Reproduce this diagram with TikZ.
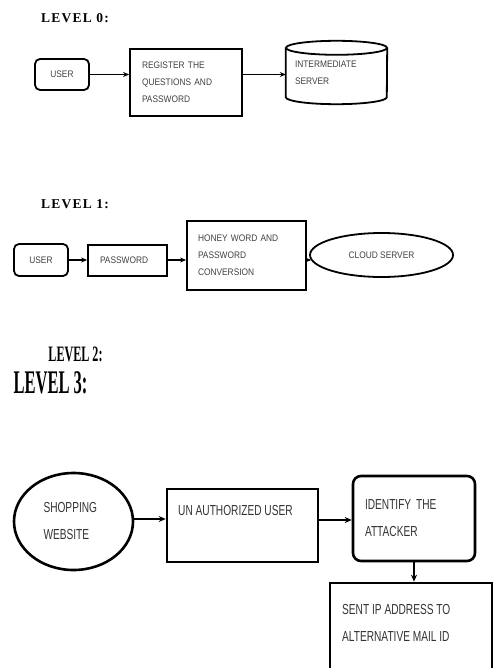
\documentclass[tikz,border=0pt]{standalone}
\usepackage{fontspec}
\usetikzlibrary{arrows.meta,shapes.geometric}
\newfontfamily\headfont[LetterSpace=9]{Liberation Serif}
\newfontfamily\headnarrow[FakeStretch=0.55]{Liberation Serif}
\newfontfamily\headnarrower[FakeStretch=0.5]{Liberation Serif}
\newfontfamily\boxfont[FakeStretch=0.88]{Liberation Sans}
\newfontfamily\bigboxfont[FakeStretch=0.7]{Liberation Sans}
\begin{document}
\begin{tikzpicture}[x=1pt,y=-1pt,
  box/.style={draw, line width=1.8pt, inner sep=0pt},
  bigbox/.style={draw, line width=2.6pt, inner sep=0pt},
  tsmall/.style={font=\boxfont\fontsize{9.5}{17}\selectfont, text=black!75},
  tbig/.style={font=\bigboxfont\fontsize{14.5}{27}\selectfont, text=black!80},
  arr/.style={line width=1.5pt, -{Stealth[length=6pt,width=5pt]}},
  bigarr/.style={line width=2pt, -{Stealth[length=7pt,width=6pt]}},
  headA/.style={font=\headfont\bfseries\fontsize{13.5}{16}\selectfont, inner sep=0pt},
]
\useasboundingbox (0,0) rectangle (494,668);
\clip (0,0) rectangle (494,668);

% ---------- LEVEL 0 ----------
\node[headA] (h0) at (75,18) {LEVEL 0:};
\node[box, rounded corners=5pt, minimum width=54pt, minimum height=31pt, tsmall] (u0) at (62,74.5) {USER};
\node[box, minimum width=112pt, minimum height=67pt, tsmall, text width=88pt, inner xsep=12pt, align=left] (r0) at (186,82.5) {REGISTER THE\\QUESTIONS AND\\PASSWORD};
\node[inner sep=0pt, minimum width=101pt, minimum height=63pt, tsmall, text width=83pt, inner xsep=9pt, align=left] (s0) at (336.5,72.5) {INTERMEDIATE\\SERVER};
\draw[line width=1.8pt] ([yshift=-7pt]s0.north west) -- ([yshift=7pt]s0.south west)
   arc[start angle=180, end angle=360, x radius=50.5pt, y radius=7pt]
   -- ([yshift=-7pt]s0.north east);
\draw[line width=1.8pt] ([yshift=-7pt]s0.north) ellipse[x radius=50.5pt, y radius=7pt];
\draw[arr] (u0.east) -- (u0.east -| r0.west);
\draw[arr] (r0.east |- u0.east) -- (u0.east -| s0.west);

% ---------- LEVEL 1 ----------
\node[headA] (h1) at (75,204) {LEVEL 1:};
\node[box, rounded corners=5pt, minimum width=54pt, minimum height=32pt, tsmall] (u1) at (41,260) {USER};
\node[box, minimum width=79pt, minimum height=31pt, tsmall, text width=55pt, inner xsep=12pt, align=left] (p1) at (127.5,260.5) {PASSWORD};
\node[box, minimum width=119pt, minimum height=69pt, tsmall, text width=97pt, inner xsep=11pt, align=left] (hw) at (246.5,255.5) {HONEY WORD AND\\PASSWORD\\CONVERSION};
\node[ellipse, box, minimum width=143pt, minimum height=44pt, tsmall] (c1) at (381.5,255) {CLOUD SERVER};
\draw[arr] (u1.east) -- (u1.east -| p1.west);
\draw[arr] (p1.east |- u1.east) -- (u1.east -| hw.west);
\draw[arr] (hw.east |- u1.east) -- ([xshift=2pt]c1.west |- u1.east);

% ---------- LEVEL 2 / 3 ----------
\node[font=\headnarrow\bfseries\fontsize{22}{24}\selectfont, inner sep=0pt] (h2) at (75.5,354.5) {LEVEL 2:};
\node[font=\headnarrower\bfseries\fontsize{33}{36}\selectfont, inner sep=0pt] (h3) at (50.5,382.5) {LEVEL 3:};

\node[ellipse, bigbox, minimum width=119pt, minimum height=97pt, tbig, text width=60pt, align=left] (sw) at (73.5,521.5) {SHOPPING\\WEBSITE};
\node[bigbox, minimum width=151pt, minimum height=73pt] (ua) at (242.5,525.5) {};
\node[tbig, anchor=west, inner sep=0pt] (uat) at (178,511) {UN AUTHORIZED USER};
\node[bigbox, rounded corners=8pt, minimum width=122pt, minimum height=85pt, tbig, text width=98pt, inner xsep=12pt, align=left] (id) at (414,518.5) {IDENTIFY THE\\ATTACKER};
\node[bigbox, minimum width=162pt, minimum height=117pt] (sn) at (411,641.5) {};
\node[tbig, anchor=west, inner sep=0pt, align=left] (snt) at (342,622.5) {SENT IP ADDRESS TO\\ALTERNATIVE MAIL ID};

\coordinate (swa) at (133,519);
\draw[bigarr] (swa) -- (swa -| ua.west);
\draw[bigarr] (ua.east |- id.east) ++(0,1.5) coordinate (uaa) -- (uaa -| id.west);
\draw[bigarr] (id.south) -- (id.south |- sn.north);
\end{tikzpicture}
\end{document}
